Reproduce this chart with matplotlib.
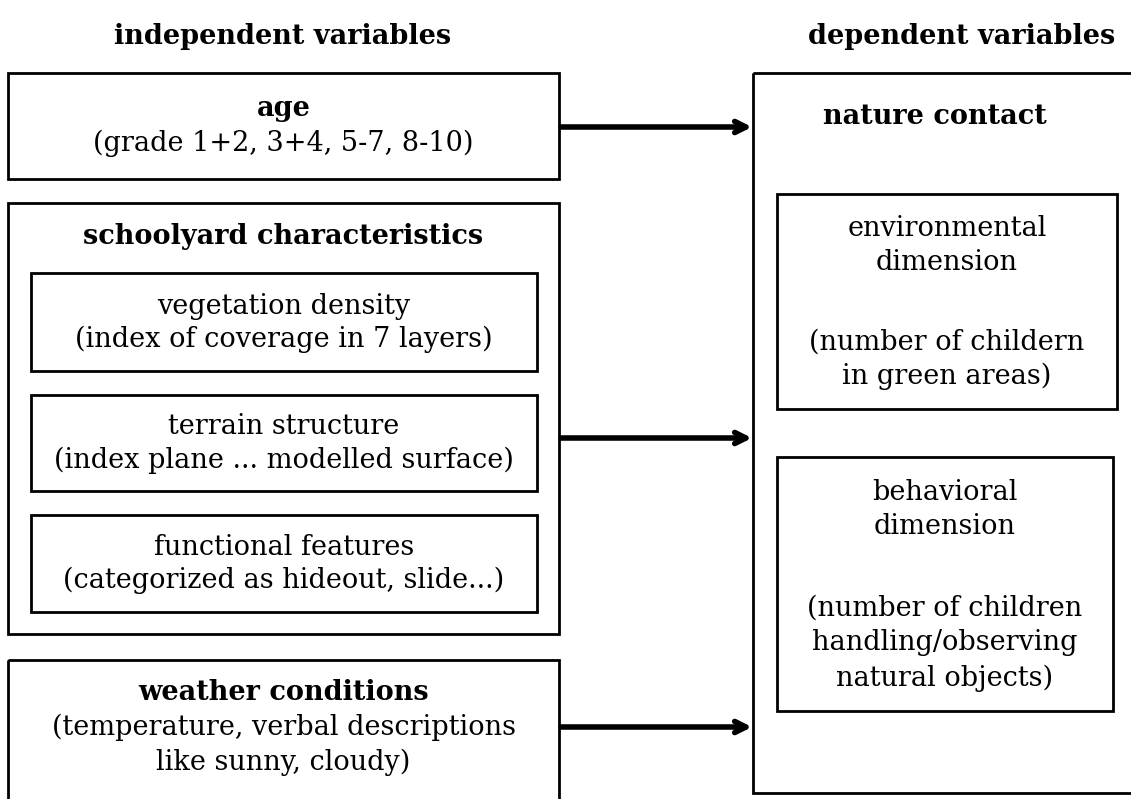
import matplotlib.pyplot as plt
from matplotlib.patches import Rectangle

# texts of the diagram
header_left = "independent variables"
header_right = "dependent variables"

age_title = "age"
age_lines = ["(grade 1+2, 3+4, 5-7, 8-10)"]

yard_title = "schoolyard characteristics"
yard_items = [
    ["vegetation density", "(index of coverage in 7 layers)"],
    ["terrain structure", "(index plane ... modelled surface)"],
    ["functional features", "(categorized as hideout, slide...)"],
]

weather_title = "weather conditions"
weather_lines = ["(temperature, verbal descriptions", "like sunny, cloudy)"]

contact_title = "nature contact"
env_lines = ["environmental", "dimension", "(number of childern", "in green areas)"]
behav_lines = ["behavioral", "dimension", "(number of children",
               "handling/observing", "natural objects)"]

W, H = 1131, 799
FS = 19.5
plt.rcParams['font.family'] = ['DejaVu Serif']

fig = plt.figure(figsize=(W / 100, H / 100), dpi=100)
ax = fig.add_axes([0, 0, 1, 1])
ax.set_xlim(0, W)
ax.set_ylim(H, 0)
ax.axis('off')


def box(x0, y0, x1, y1, lw=2.0):
    ax.add_patch(Rectangle((x0, y0), x1 - x0, y1 - y0, fill=False,
                           edgecolor='black', linewidth=lw, clip_on=False))


def txt(x, y, s, bold=False):
    ax.text(x, y, s, ha='center', va='center', fontsize=FS,
            fontweight='bold' if bold else 'normal', color='black')


def arrow(y):
    ax.annotate('', xy=(752, y), xytext=(561, y),
                arrowprops=dict(arrowstyle='->,head_length=0.8,head_width=0.4',
                                lw=4, color='black', shrinkA=0, shrinkB=0))


# headers
txt(283, 36, header_left, bold=True)
txt(962, 36, header_right, bold=True)

# left column
lx = (8 + 559) / 2
box(8, 73, 559, 179)
txt(lx, 108, age_title, bold=True)
txt(lx, 143, age_lines[0])

box(8, 203, 559, 634)
txt(lx, 236, yard_title, bold=True)
inner = [(273, 371), (395, 491), (515, 612)]
ix = (31 + 537) / 2
for (t, b), (l1, l2) in zip(inner, yard_items):
    box(31, t, 537, b)
    mid = (t + b) / 2
    txt(ix, mid - 16, l1)
    txt(ix, mid + 17, l2)

box(8, 660, 559, 830)
txt(lx, 692, weather_title, bold=True)
txt(lx, 727, weather_lines[0])
txt(lx, 762, weather_lines[1])

# right column
box(753, 73, 1145, 793)
txt(935, 116, contact_title, bold=True)

box(777, 194, 1117, 409)
ex = (777 + 1117) / 2
for y, s in zip([228, 262, 342, 376], env_lines):
    txt(ex, y, s)

box(777, 457, 1113, 711)
bx = (777 + 1113) / 2
for y, s in zip([492, 527, 608, 643, 678], behav_lines):
    txt(bx, y, s)

# arrows
for y in [127, 438, 727]:
    arrow(y)

fig.savefig('out.png', dpi=100)
